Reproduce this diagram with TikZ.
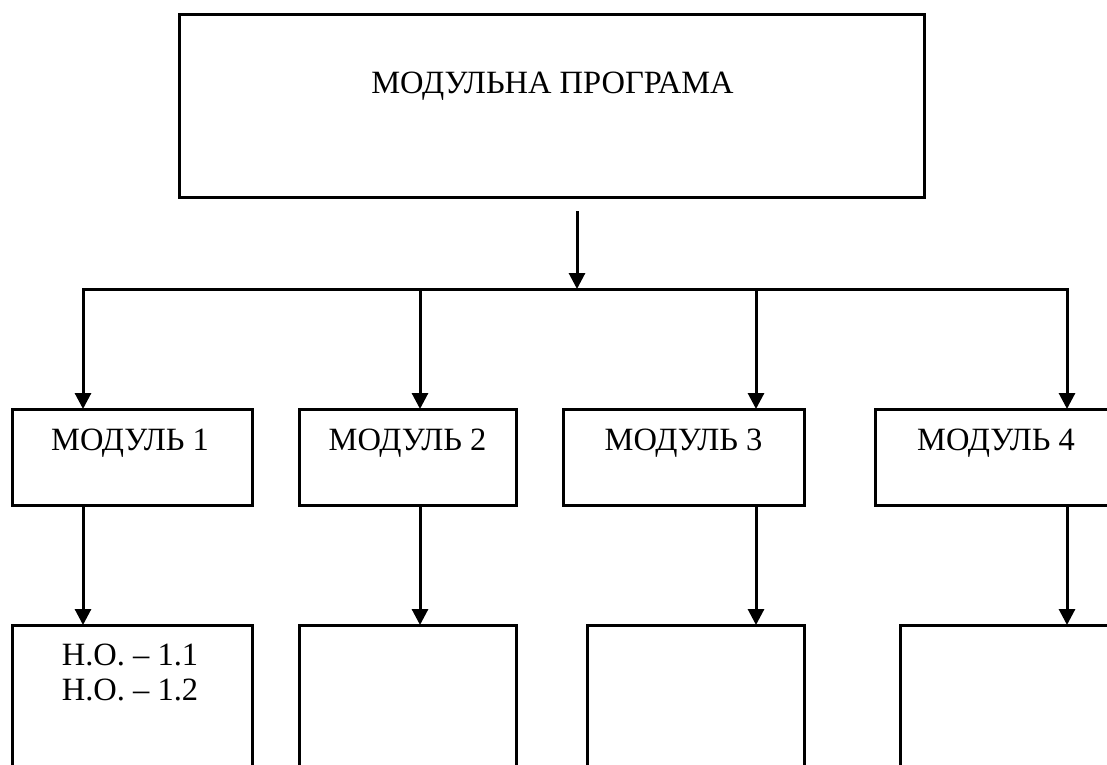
\documentclass[tikz,border=0pt]{standalone}
\usepackage{fontspec}
\setmainfont{Liberation Serif}
\usetikzlibrary{arrows.meta}
\begin{document}
\begin{tikzpicture}[x=1pt,y=-1pt,
  box/.style={draw=black,line width=3pt,rectangle,anchor=north west,inner sep=0pt,outer sep=0pt},
  lbl/.style={anchor=base,inner sep=0pt,font=\fontsize{32.5}{35}\selectfont},
  conn/.style={line width=3pt},
  arr/.style={line width=3pt,-{Triangle[width=16pt,length=16pt]}}]
\clip (0,0) rectangle (1107,764);
\useasboundingbox (0,0) rectangle (1107,764);
% boxes
\node[box,minimum width=745pt,minimum height=183pt] (top) at (179,14) {};
\node[box,minimum width=240pt,minimum height=96pt] (m1) at (12,409) {};
\node[box,minimum width=217pt,minimum height=96pt] (m2) at (299,409) {};
\node[box,minimum width=241pt,minimum height=96pt] (m3) at (563,409) {};
\node[box,minimum width=242pt,minimum height=96pt] (m4) at (875,409) {};
\node[box,minimum width=240pt,minimum height=200pt] (l1) at (12,625) {};
\node[box,minimum width=217pt,minimum height=200pt] (l2) at (299,625) {};
\node[box,minimum width=217pt,minimum height=200pt] (l3) at (587,625) {};
\node[box,minimum width=217pt,minimum height=200pt] (l4) at (900,625) {};
% texts
\node[lbl] (ttop) at (552.5,93) {МОДУЛЬНА ПРОГРАМА};
\node[lbl] (t1) at (130,450) {МОДУЛЬ 1};
\node[lbl] (t2) at (407.5,450) {МОДУЛЬ 2};
\node[lbl] (t3) at (683.5,450) {МОДУЛЬ 3};
\node[lbl] (t4) at (996,450) {МОДУЛЬ 4};
\node[lbl] (n1) at (130,665) {Н.О. – 1.1};
\node[lbl] (n2) at (130,700) {Н.О. – 1.2};
% connectors
\coordinate (s0) at (577,211);
\coordinate (sj) at (577,289);
\coordinate (h1) at (83,289);
\coordinate (h2) at (420,289);
\coordinate (h3) at (756,289);
\coordinate (h4) at (1067,289);
\draw[arr] (s0) -- (sj);
\draw[conn,line cap=rect] (h1) -- (h4);
\draw[arr] (h1) -- (h1 |- m1.north);
\draw[arr] (h2) -- (h2 |- m2.north);
\draw[arr] (h3) -- (h3 |- m3.north);
\draw[arr] (h4) -- (h4 |- m4.north);
\draw[arr] (h1 |- m1.south) -- (h1 |- l1.north);
\draw[arr] (h2 |- m2.south) -- (h2 |- l2.north);
\draw[arr] (h3 |- m3.south) -- (h3 |- l3.north);
\draw[arr] (h4 |- m4.south) -- (h4 |- l4.north);
\end{tikzpicture}
\end{document}
